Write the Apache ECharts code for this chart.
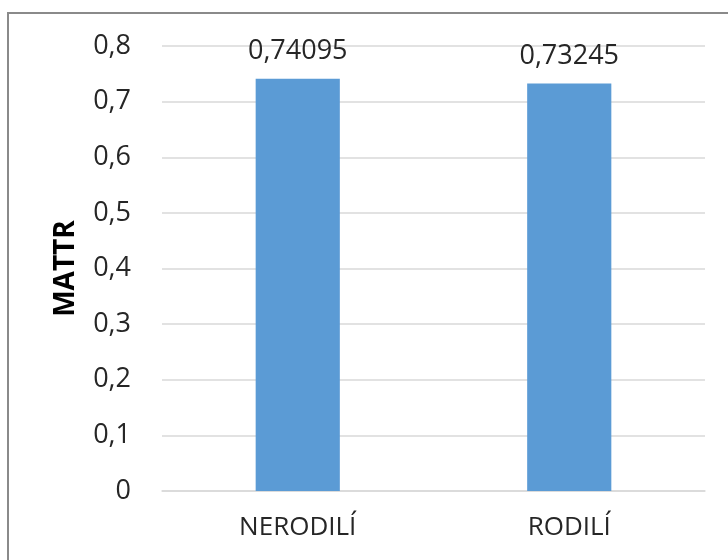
<!DOCTYPE html>
<html>
<head>
<meta charset="utf-8">
<script src="https://cdn.jsdelivr.net/npm/echarts@6/dist/echarts.min.js"></script>
<style>
  html, body { margin: 0; padding: 0; background: #fff; }
  #chart { width: 728px; height: 560px; }
</style>
</head>
<body>
<div id="chart"></div>
<script>
// MATTR values per group
const categories = ['NERODILÍ', 'RODILÍ'];
const mattrValues = [0.74095, 0.73245];
const yMin = 0;
const yMax = 0.8;
const yStep = 0.1;

const fmt = v => String(Math.round(v * 100000) / 100000).replace('.', ',');
const fontFamily = "'Open Sans', 'Liberation Sans', sans-serif";

const chart = echarts.init(document.getElementById('chart'));
chart.setOption({
  animation: false,
  backgroundColor: '#ffffff',
  graphic: [{
    type: 'rect',
    shape: { x: 8, y: 13, width: 760, height: 600 },
    style: { fill: 'none', stroke: '#8a8a8a', lineWidth: 2 },
    silent: true
  }],
  grid: { left: 162, right: 23, top: 46, bottom: 69, containLabel: false },
  xAxis: {
    type: 'category',
    data: categories,
    axisLine: { show: true, lineStyle: { color: '#d9d9d9', width: 1.5 } },
    axisTick: { show: false },
    axisLabel: { color: '#262626', fontSize: 26, fontFamily, margin: 24 }
  },
  yAxis: {
    type: 'value',
    min: yMin,
    max: yMax,
    interval: yStep,
    name: 'MATTR',
    nameLocation: 'middle',
    nameGap: 82,
    nameRotate: 90,
    nameTextStyle: { color: '#000', fontSize: 28, fontWeight: 'bold', fontFamily },
    axisLine: { show: false },
    axisTick: { show: false },
    axisLabel: { color: '#262626', fontSize: 27, fontFamily, margin: 31, formatter: v => fmt(v) },
    splitLine: { lineStyle: { color: '#d9d9d9', width: 1.5 } }
  },
  series: [{
    type: 'bar',
    data: mattrValues,
    barWidth: '31%',
    itemStyle: { color: '#5b9bd5' },
    label: {
      show: true,
      position: 'top',
      distance: 14,
      color: '#262626',
      fontSize: 27,
      fontFamily,
      formatter: p => fmt(p.value)
    }
  }]
});
</script>
</body>
</html>
